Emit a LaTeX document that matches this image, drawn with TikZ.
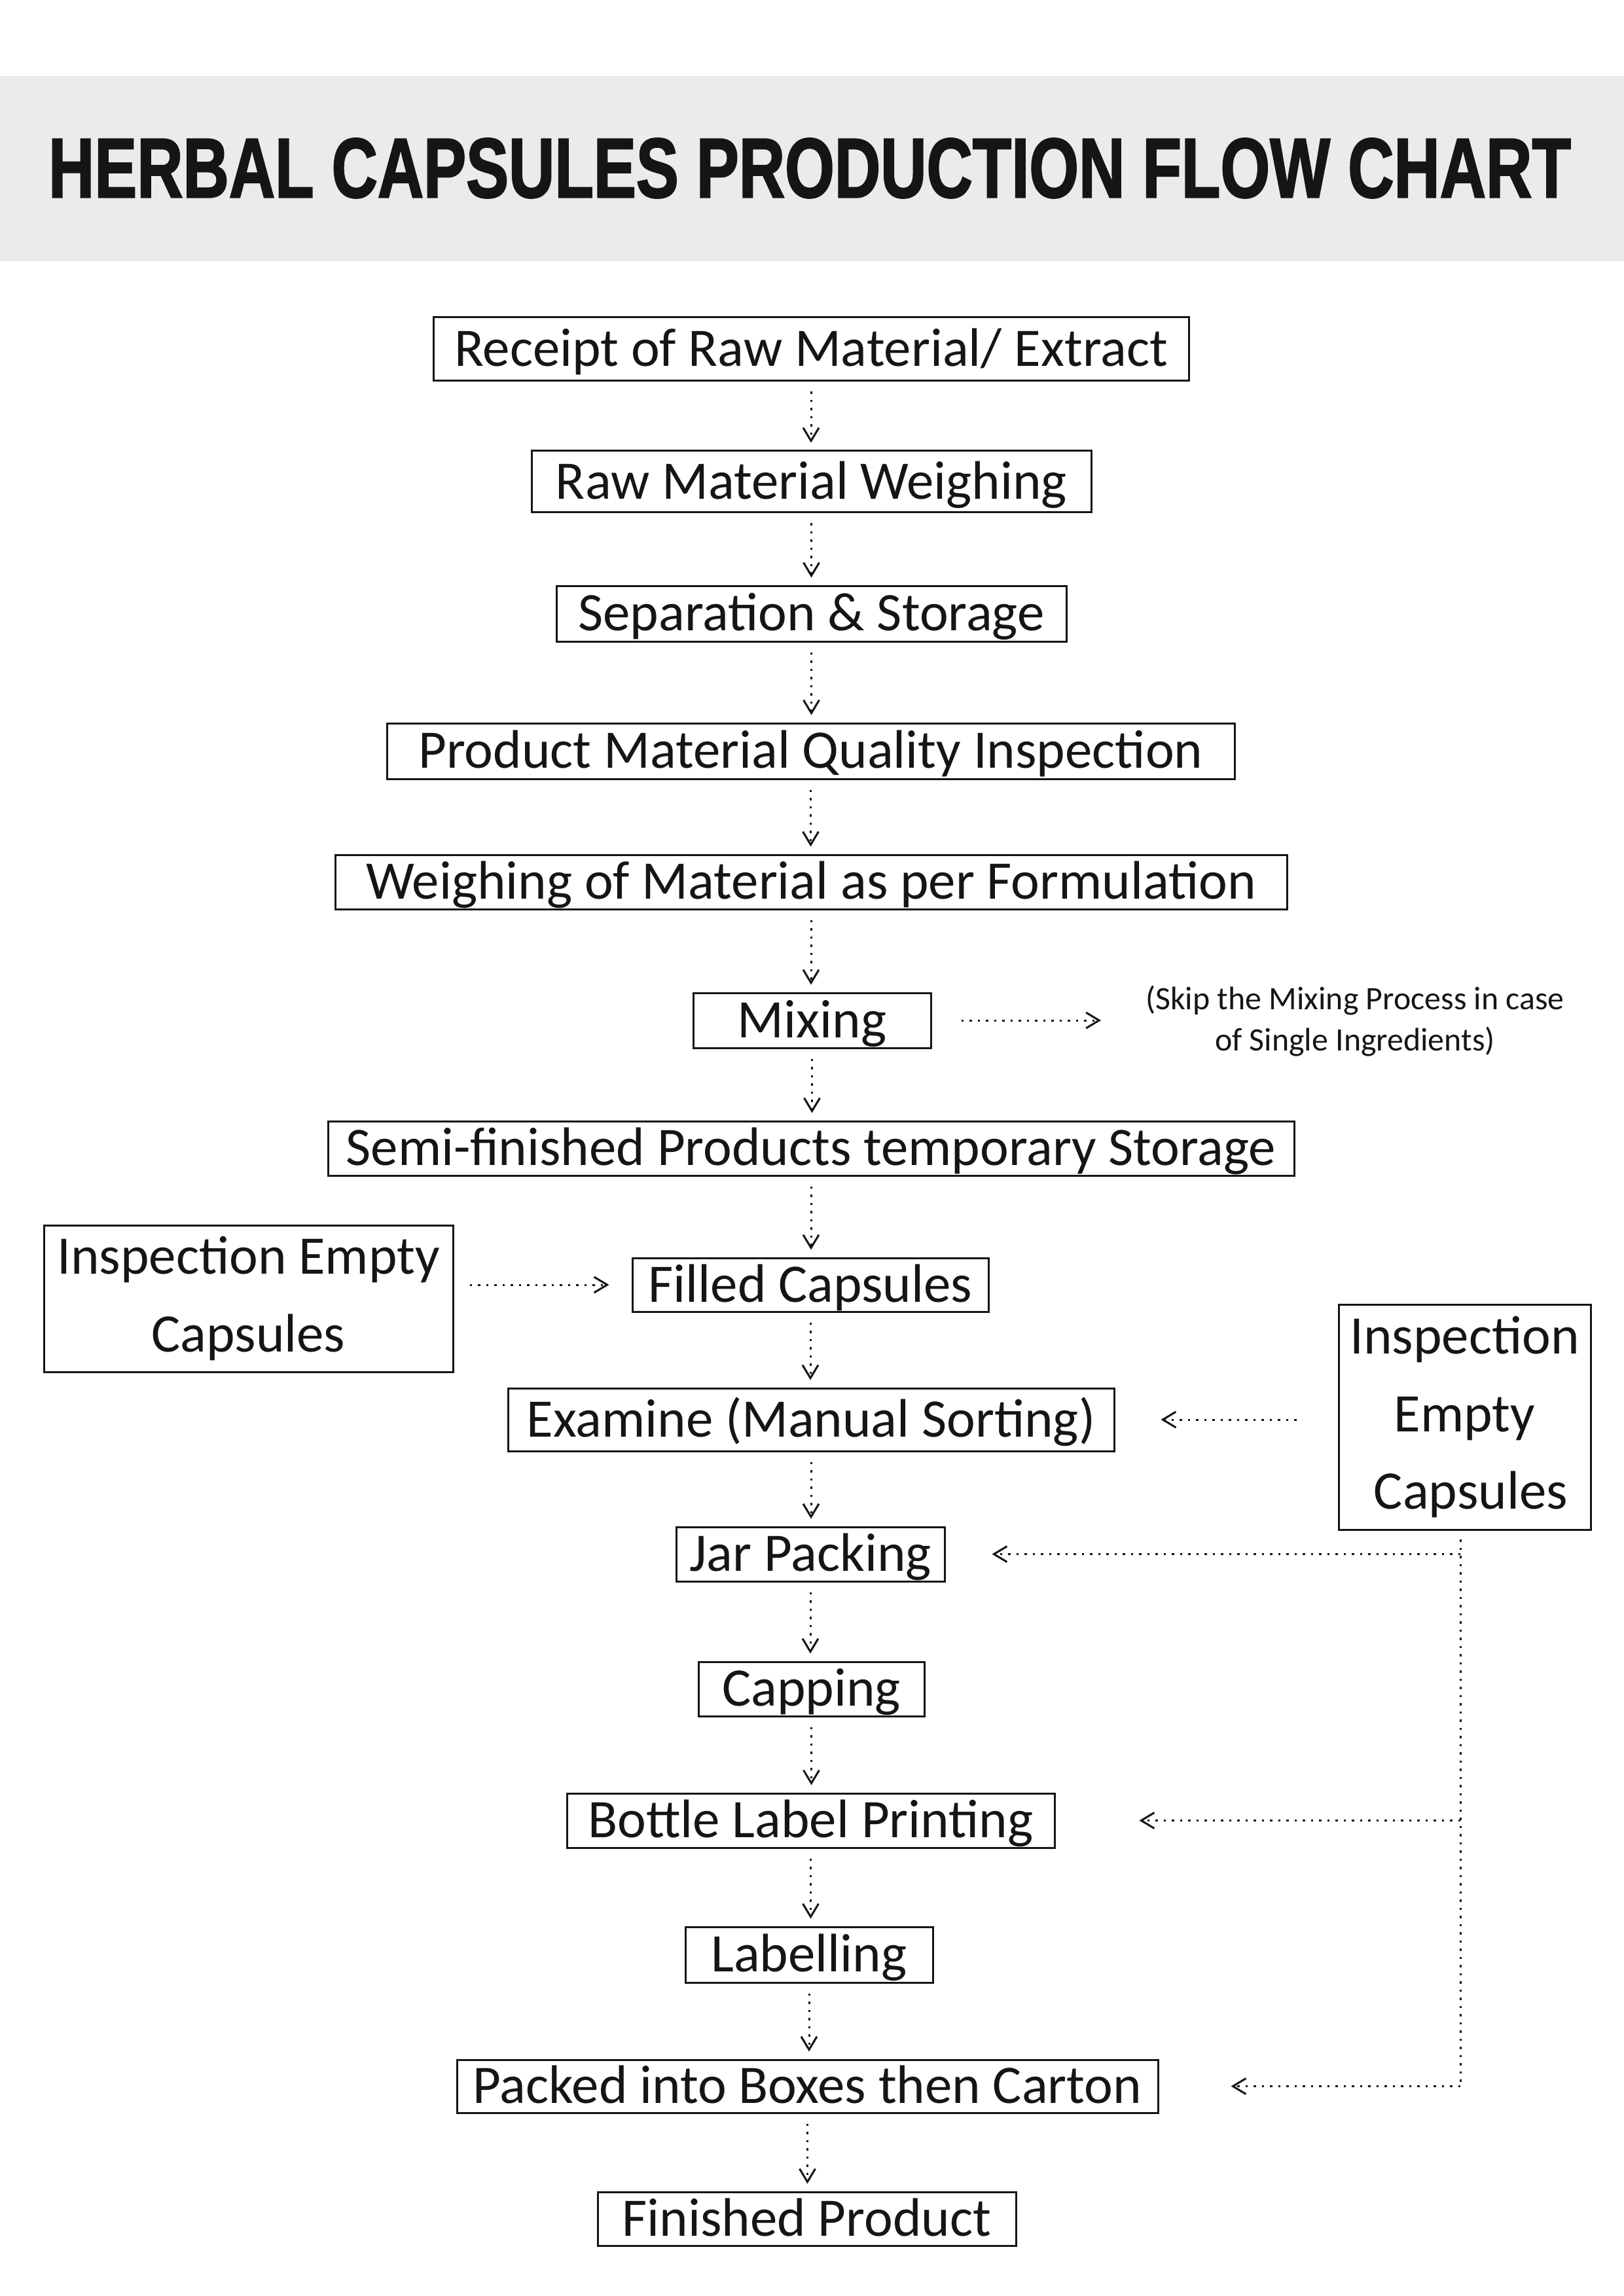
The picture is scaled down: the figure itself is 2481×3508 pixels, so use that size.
\documentclass[tikz,border=0pt]{standalone}
\usepackage{fontspec}
\setmainfont{Carlito}
\newfontfamily\titlefont{Liberation Sans}[BoldFeatures={FakeBold=2}]
\usepackage{graphicx}
\usetikzlibrary{arrows.meta}
\definecolor{bandgray}{HTML}{EBEBEB}
\definecolor{ink}{HTML}{151515}
\begin{document}
\begin{tikzpicture}[x=0.1mm,y=-0.1mm,
  box/.style={draw=ink, line width=0.3mm, inner sep=0pt, text=ink,
    font=\fontsize{23.6}{28}\selectfont, text height=15.2pt, text depth=0.2pt},
  sidebox/.style={draw=ink, line width=0.3mm, inner sep=0pt, text=ink, align=center,
    font=\fontsize{23.6}{33.6}\selectfont},
  dots/.style={line width=0.3mm, draw=ink, dash pattern=on 0.35mm off 0.9mm},
  tip/.style={-{Straight Barb[length=2mm,width=2.4mm]}},
  flow/.style={dots, tip, shorten <=1.5mm, shorten >=1.1mm}
]
\useasboundingbox (0,0) rectangle (2481,3508);
\node[fill=bandgray, minimum width=248.1mm, minimum height=28.3mm, inner sep=0pt] (band) at (1240.5,257.5) {};
\node[inner sep=0pt, text=ink] (title) at (1237,257) {\resizebox{232.6mm}{9mm}{\titlefont\bfseries HERBAL CAPSULES PRODUCTION FLOW CHART}};

\node[box, minimum width=115.4mm, minimum height=9.7mm] (b1) at (1239,533.5) {Receipt of Raw Material/ Extract};
\node[box, minimum width=85.5mm, minimum height=9.4mm] (b2) at (1239.5,736) {Raw Material Weighing};
\node[box, minimum width=77.9mm, minimum height=8.5mm] (b3) at (1239.5,937.5) {Separation \& Storage};
\node[box, minimum width=129.5mm, minimum height=8.5mm] (b4) at (1238.5,1147.5) {Product Material Quality Inspection};
\node[box, minimum width=145.4mm, minimum height=8.3mm] (b5) at (1239,1347.5) {Weighing of Material as per Formulation};
\node[box, minimum width=36.3mm, minimum height=8.4mm] (b6) at (1240.5,1559) {Mixing};
\node[box, minimum width=147.6mm, minimum height=8.3mm] (b7) at (1239,1754.5) {Semi-finished Products temporary Storage};
\node[box, minimum width=54.4mm, minimum height=8.2mm] (b8) at (1238,1963) {Filled Capsules};
\node[box, minimum width=92.6mm, minimum height=9.6mm] (b9) at (1239,2169) {Examine (Manual Sorting)};
\node[box, minimum width=41mm, minimum height=8.3mm] (b10) at (1238,2374.5) {Jar Packing};
\node[box, minimum width=34.5mm, minimum height=8.3mm] (b11) at (1239.5,2580.5) {Capping};
\node[box, minimum width=74.5mm, minimum height=8.3mm] (b12) at (1238.5,2781.5) {Bottle Label Printing};
\node[box, minimum width=37.8mm, minimum height=8.5mm] (b13) at (1236,2986.5) {Labelling};
\node[box, minimum width=107.1mm, minimum height=8.1mm] (b14) at (1233.5,3187.5) {Packed into Boxes then Carton};
\node[box, minimum width=63.9mm, minimum height=8.2mm] (b15) at (1232.5,3390) {Finished Product};

\node[sidebox, minimum width=62.5mm, minimum height=22.4mm] (inspL) at (379.5,1984) {Inspection Empty\\Capsules};
\node[sidebox, minimum width=38.5mm, minimum height=34.4mm] (inspR) at (2237.5,2165) {Inspection\\Empty\\\ Capsules};

\node[inner sep=0pt, align=center, text=ink, font=\fontsize{14.2}{17.9}\selectfont] (skip) at (2070,1560) {(Skip the Mixing Process in case\\of Single Ingredients)};
\coordinate (skipin) at (1682,1559);

\foreach \a/\b in {b1/b2,b2/b3,b3/b4,b4/b5,b5/b6,b6/b7,b7/b8,b8/b9,b9/b10,b10/b11,b11/b12,b12/b13,b13/b14,b14/b15}
  \draw[flow] (\a.south) -- (\a.south |- \b.north);

\draw[dots, tip, shorten <=4.5mm] (b6.east) -- (skipin);
\draw[dots, tip, shorten <=2.4mm, shorten >=3.4mm] (inspL.east |- b8.west) -- (b8.west);
\draw[dots, tip, shorten <=6.3mm, shorten >=7mm] (inspR.west |- b9.east) -- (b9.east);

\coordinate (v0) at (2231,2352);
\draw[dots] (v0) -- (v0 |- b14.east);
\draw[dots, tip, shorten >=7.1mm] (v0 |- b10.east) -- (b10.east);
\draw[dots, tip, shorten >=12.8mm] (v0 |- b12.east) -- (b12.east);
\draw[dots, tip, shorten >=11mm] (v0 |- b14.east) -- (b14.east);
\end{tikzpicture}
\end{document}
